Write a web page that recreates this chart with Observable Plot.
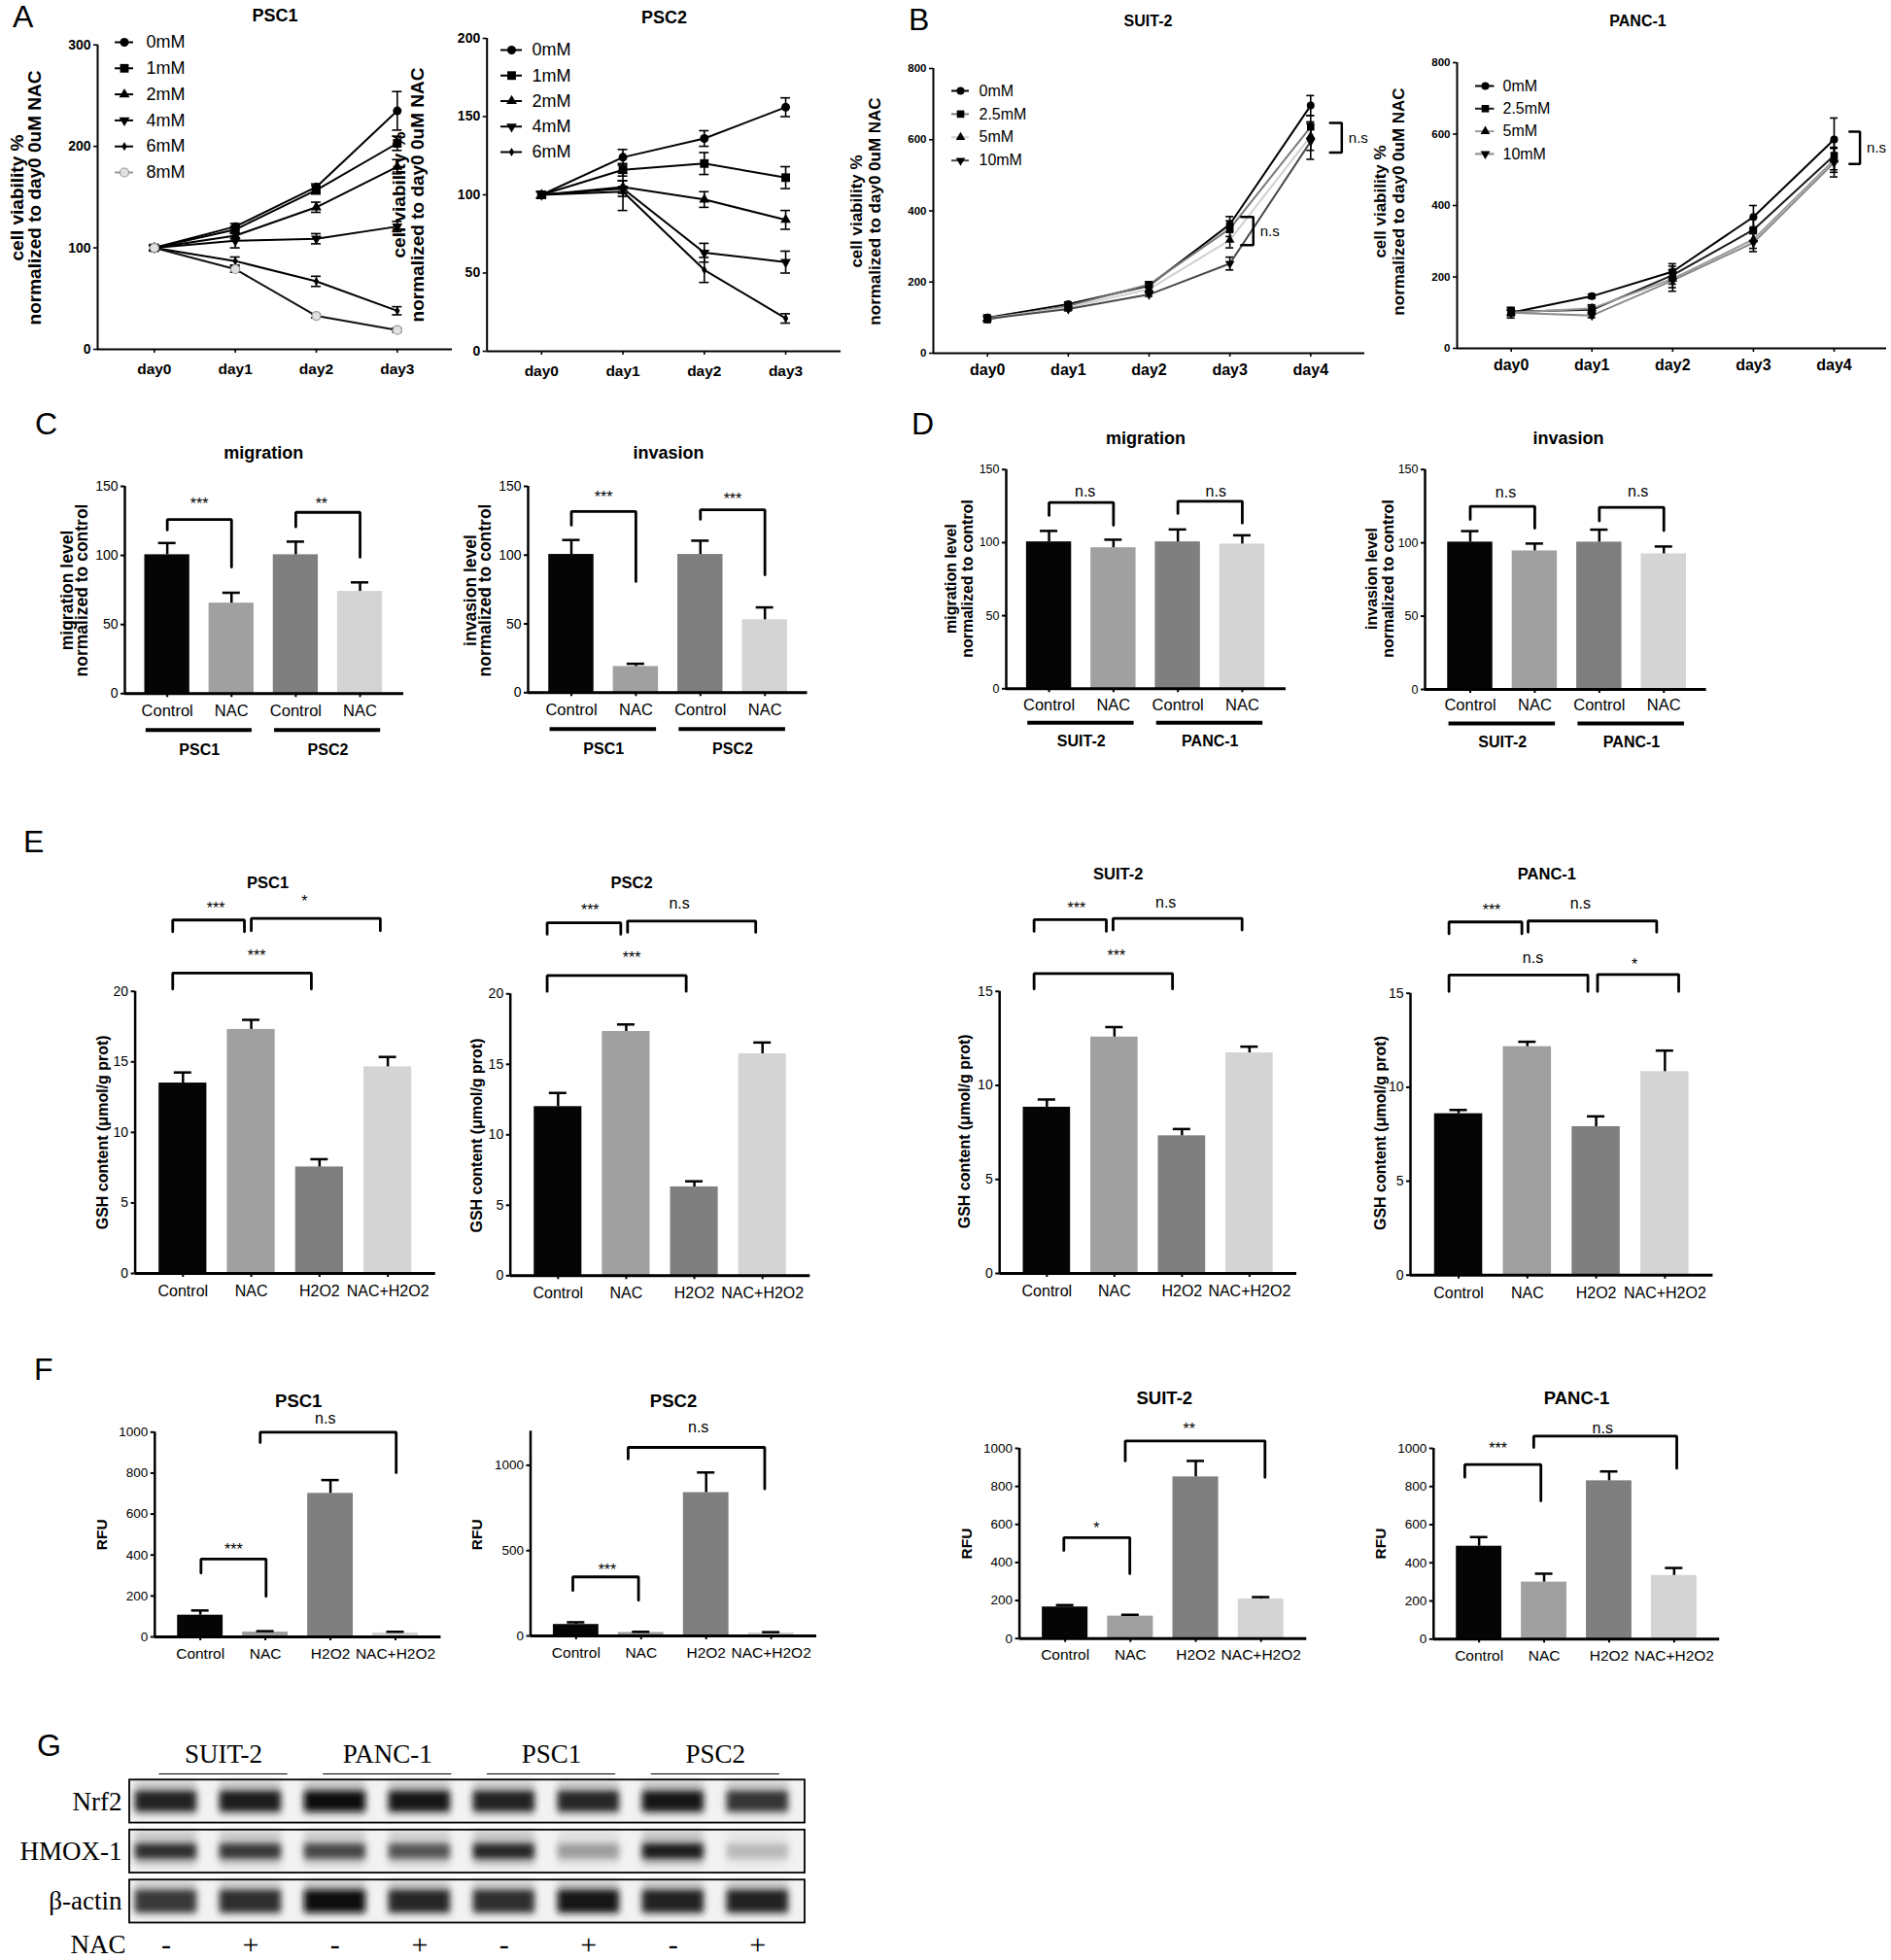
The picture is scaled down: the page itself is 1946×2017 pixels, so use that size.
<!DOCTYPE html>
<html><head><meta charset="utf-8">
<script src="https://cdn.jsdelivr.net/npm/d3@7"></script>
<script src="https://cdn.jsdelivr.net/npm/@observablehq/plot@0.6"></script>
<style>
html,body{margin:0;padding:0;background:#fff;}
#page{position:relative;width:1946px;height:2017px;overflow:hidden;background:#fff;font-family:"Liberation Sans",Arial,Helvetica,sans-serif;color:#000;}
.letter{position:absolute;font-size:32px;line-height:1;}
</style></head><body><div id="page"></div>
<script>
// ---------------- DATA ----------------
// Panels A/B: cell viability (% of day0, 0 uM NAC)
const daysA = ["day0", "day1", "day2", "day3"];
const daysB = ["day0", "day1", "day2", "day3", "day4"];

const psc1Conc = ["0mM", "1mM", "2mM", "4mM", "6mM", "8mM"];
const psc1Mean = [[100,121,160,235],[100,118,157,203],[100,112,140,180],[100,107,109,121],[100,87,67,38],[100,79,33,19]];
const psc1Err  = [[3,3,3,19],[3,3,4,7],[2,3,5,7],[3,7,5,5],[2,4,5,4],[2,3,2,2]];

const psc2Conc = ["0mM", "1mM", "2mM", "4mM", "6mM"];
const psc2Mean = [[100,124,136,156],[100,116,120,111],[100,105,97,84],[100,104,63,57],[100,102,52,21]];
const psc2Err  = [[2,5,5,6],[2,4,7,7],[2,4,5,6],[2,5,6,7],[2,12,8,3]];

const suitConc = ["0mM", "2.5mM", "5mM", "10mM"];
const suitMean = [[100,138,190,362,696],[95,133,193,350,636],[98,128,180,318,610],[97,124,165,252,595]];
const suitErr  = [[8,6,6,22,28],[8,6,8,22,32],[6,5,6,22,40],[6,5,5,18,50]];
const suitSig  = [{x1: 4.24, x2: 4.385, hi: 647, lo: 564, label: "n.s"}, {x1: 3.14, x2: 3.29, hi: 383, lo: 304, label: "n.s"}];

const pancConc = ["0mM", "2.5mM", "5mM", "10mM"];
const pancMean = [[100,146,215,368,585],[103,108,205,332,540],[100,112,195,305,528],[100,92,190,296,520]];
const pancErr  = [[15,6,22,32,60],[10,10,25,30,40],[8,10,25,25,35],[8,6,30,25,40]];
const pancSig  = [{x1: 4.19, x2: 4.32, hi: 607, lo: 516, label: "n.s"}];

// Panels C/D: migration / invasion (% of control)
const cdLabels = ["Control", "NAC", "Control", "NAC"];
const cGroups = ["PSC1", "PSC2"];
const dGroups = ["SUIT-2", "PANC-1"];
const cMigMean = [100.5, 65.5, 100.5, 74],  cMigErr = [8.5, 7.5, 9.5, 6.5];
const cInvMean = [100.5, 19, 100.5, 53],    cInvErr = [10.5, 2, 10, 9];
const dMigMean = [100.5, 96.5, 100.5, 99],  dMigErr = [7.5, 5.5, 8.5, 6];
const dInvMean = [100.5, 94.5, 100.5, 92.5], dInvErr = [7.5, 5, 8.5, 5];
const cMigSig = [{x1:0,x2:1,top:126,ya:118.4,yb:91.6,label:"***",lx:0.5,ly:137.3},{x1:2,x2:3,top:131.2,ya:120.7,yb:98.7,label:"**",lx:2.4,ly:137.3}];
const cInvSig = [{x1:0,x2:1,top:131.7,ya:121.8,yb:80.8,label:"***",lx:0.5,ly:142.2},{x1:2,x2:3,top:132.9,ya:126,yb:85.7,label:"***",lx:2.5,ly:140.8}];
const dMigSig = [{x1:0,x2:1,top:127.4,ya:118.6,yb:111.9,label:"n.s",lx:0.56,ly:134.6},{x1:2,x2:3,top:128.3,ya:119.9,yb:113.4,label:"n.s",lx:2.59,ly:135.2}];
const dInvSig = [{x1:0,x2:1,top:124.9,ya:116,yb:110,label:"n.s",lx:0.55,ly:134.6},{x1:2,x2:3,top:124.2,ya:115,yb:108.3,label:"n.s",lx:2.6,ly:135.3}];

// Panel E: GSH content (umol/g prot)
const efLabels = ["Control", "NAC", "H2O2", "NAC+H2O2"];
const eP1Mean = [13.5, 17.3, 7.55, 14.65],  eP1Err = [0.75, 0.68, 0.55, 0.7];
const eP2Mean = [12.0, 17.33, 6.3, 15.75],  eP2Err = [0.97, 0.5, 0.4, 0.8];
const eSuMean = [8.84, 12.57, 7.32, 11.73], eSuErr = [0.41, 0.53, 0.36, 0.33];
const ePaMean = [8.59, 12.16, 7.9, 10.83],  ePaErr = [0.2, 0.26, 0.55, 1.12];
const eP1Sig = [{x1:-0.15,x2:0.9,top:25.06,ya:24.23,yb:24.23,label:"***",lx:0.48,ly:25.86},{x1:1.0,x2:2.89,top:25.17,ya:24.3,yb:24.3,label:"*",lx:1.78,ly:26.39},{x1:-0.15,x2:1.88,top:21.3,ya:20.17,yb:20.17,label:"***",lx:1.08,ly:22.53}];
const eP2Sig = [{x1:-0.16,x2:0.92,top:25.05,ya:24.23,yb:24.23,label:"***",lx:0.47,ly:25.93},{x1:1.02,x2:2.9,top:25.17,ya:24.37,yb:24.37,label:"n.s",lx:1.78,ly:26.39},{x1:-0.16,x2:1.88,top:21.3,ya:20.18,yb:20.18,label:"***",lx:1.08,ly:22.52}];
const eSuSig = [{x1:-0.19,x2:0.88,top:18.81,ya:18.19,yb:18.19,label:"***",lx:0.44,ly:19.4},{x1:0.98,x2:2.89,top:18.88,ya:18.26,yb:18.26,label:"n.s",lx:1.76,ly:19.74},{x1:-0.19,x2:1.86,top:15.95,ya:15.13,yb:15.13,label:"***",lx:1.03,ly:16.9}];
const ePaSig = [{x1:-0.14,x2:0.92,top:18.8,ya:18.17,yb:18.17,label:"***",lx:0.48,ly:19.42},{x1:1.01,x2:2.88,top:18.85,ya:18.25,yb:18.25,label:"n.s",lx:1.77,ly:19.76},{x1:-0.14,x2:1.88,top:15.97,ya:15.1,yb:15.1,label:"n.s",lx:1.08,ly:16.86},{x1:2.02,x2:3.2,top:16.0,ya:15.1,yb:15.1,label:"*",lx:2.56,ly:16.52}];

// Panel F: ROS (RFU)
const fP1Mean = [106, 24, 701, 20],  fP1Err = [23, 4, 65, 5];
const fP2Mean = [67, 20, 840, 18],   fP2Err = [13, 4, 118, 4];
const fSuMean = [166, 118, 850, 208], fSuErr = [10, 7, 84, 10];
const fPaMean = [487, 299, 830, 334], fPaErr = [48, 44, 49, 39];
const fP1Sig = [{x1:0.01,x2:1.01,top:380,ya:312,yb:198,label:"***",lx:0.51,ly:424},{x1:0.92,x2:3.01,top:1000,ya:949,yb:802,label:"n.s",lx:1.92,ly:1068}];
const fP2Sig = [{x1:-0.05,x2:0.96,top:346,ya:266,yb:209,label:"***",lx:0.48,ly:383},{x1:0.8,x2:2.9,top:1105,ya:1038,yb:862,label:"n.s",lx:1.88,ly:1223}];
const fSuSig = [{x1:-0.02,x2:0.99,top:531,ya:463,yb:341,label:"*",lx:0.48,ly:579},{x1:0.92,x2:3.06,top:1039,ya:934,yb:848,label:"**",lx:1.9,ly:1101}];
const fPaSig = [{x1:-0.22,x2:0.95,top:915,ya:849,yb:725,label:"***",lx:0.29,ly:996},{x1:0.84,x2:3.04,top:1064,ya:1005,yb:895,label:"n.s",lx:1.9,ly:1103}];

// Panel G: western blot (band darkness 0..1 per lane)
const blotGroups = ["SUIT-2", "PANC-1", "PSC1", "PSC2"];
const blotRows = ["Nrf2", "HMOX-1", "β-actin"];
const nacSigns = ["-", "+", "-", "+", "-", "+", "-", "+"];
const nrf2Int  = [0.9, 0.92, 0.97, 0.95, 0.9, 0.88, 0.95, 0.82];
const hmoxInt  = [0.84, 0.8, 0.74, 0.68, 0.88, 0.36, 0.92, 0.24];
const actinInt = [0.8, 0.84, 0.97, 0.88, 0.84, 0.95, 0.9, 0.9];

// ---------------- HELPERS ----------------
const FONT = '"Liberation Sans", Arial, Helvetica, sans-serif';
const SERIF = '"Liberation Serif", "Times New Roman", Times, serif';
const STYLE = {background: "transparent", overflow: "visible", fontFamily: FONT, color: "#000", maxWidth: "none"};
const BAR_FILLS = ["#050505", "#a0a0a0", "#7f7f7f", "#d4d4d4"];
const VIAB = "cell viability %\nnormalized to day0 0uM NAC";
const intFmt = d3.format("d");
const page = document.getElementById("page");
const sqrt3 = Math.sqrt(3);
const triangleDown = {draw(ctx, size) {
  const y = -Math.sqrt(size / (sqrt3 * 3));
  ctx.moveTo(0, -y * 2); ctx.lineTo(-sqrt3 * y, y); ctx.lineTo(sqrt3 * y, y); ctx.closePath();
}};

function mount(svg, box) {
  const d = document.createElement("div");
  d.style.cssText = `position:absolute;left:${box.l}px;top:${box.t}px;width:${box.w}px;height:${box.h}px;`;
  d.appendChild(svg);
  page.appendChild(d);
  return svg;
}
function margins(box, fr) {
  return {marginLeft: fr.x0 - box.l, marginRight: box.l + box.w - fr.x1, marginTop: fr.yTop - box.t, marginBottom: box.t + box.h - fr.yBot};
}
function titleMarks(o) {
  const fr = o.frame;
  return [
    Plot.text([o.title], {frameAnchor: "top", text: d => d, textAnchor: "middle", lineAnchor: "middle",
      dx: o.tx - (fr.x0 + fr.x1) / 2, dy: o.ty - fr.yTop, fontSize: o.titleSize, fontWeight: o.titleWeight || "bold"}),
    Plot.text([o.ylabel], {frameAnchor: "left", text: d => d, rotate: -90, textAnchor: "middle", lineAnchor: "middle",
      dx: o.lx - fr.x0, dy: o.ly - (fr.yTop + fr.yBot) / 2, fontSize: o.ylabelSize, fontWeight: "bold", lineHeight: o.lineHeight || 1})
  ];
}

function lineChart(o) {
  const fr = o.frame;
  const rows = [];
  o.conc.forEach((c, s) => o.mean[s].forEach((v, d) => rows.push({s, d, v, e: o.err[s][d]})));
  const step = (fr.x1 - fr.x0) / (o.xDomain[1] - o.xDomain[0]);
  const cap = o.capPx / step;
  const marks = [
    Plot.ruleX(rows, {x: "d", y1: r => r.v - r.e, y2: r => r.v + r.e, strokeWidth: 1.6}),
    Plot.ruleY(rows, {y: r => r.v + r.e, x1: r => r.d - cap, x2: r => r.d + cap, strokeWidth: 1.6}),
    Plot.ruleY(rows, {y: r => r.v - r.e, x1: r => r.d - cap, x2: r => r.d + cap, strokeWidth: 1.6})
  ];
  o.conc.forEach((c, s) => marks.push(Plot.line(rows.filter(r => r.s === s), {x: "d", y: "v", stroke: o.lineColors[s], strokeWidth: 2})));
  o.conc.forEach((c, s) => marks.push(Plot.dot(rows.filter(r => r.s === s), {x: "d", y: "v", symbol: o.symbols[s], r: o.r[s], fill: o.fills[s], stroke: o.strokes[s], strokeWidth: 1.2})));
  marks.push(
    Plot.ruleY([0], {strokeWidth: 2}),
    Plot.ruleX([o.xDomain[0]], {strokeWidth: 2}),
    Plot.axisY(o.yTicks, {tickFormat: intFmt, tickSize: 4, tickPadding: 3, strokeWidth: 1.6, fontSize: o.yTickSize, fontWeight: "bold", label: null}),
    Plot.axisX(o.days.map((_, i) => i), {tickFormat: i => o.days[i], tickSize: 4, tickPadding: o.xPad, strokeWidth: 1.6, fontSize: o.xTickSize, fontWeight: "bold", label: null})
  );
  (o.sig || []).forEach(g => {
    marks.push(Plot.line([[g.x1, g.hi], [g.x2, g.hi], [g.x2, g.lo], [g.x1, g.lo]], {x: p => p[0], y: p => p[1], strokeWidth: 2.5, strokeLinejoin: "miter"}));
    marks.push(Plot.text([g.label], {x: () => g.x2, y: () => (g.hi + g.lo) / 2, text: d => d, dx: 7, textAnchor: "start", fontSize: 15}));
  });
  marks.push(...titleMarks(o));
  return mount(Plot.plot({width: o.box.w, height: o.box.h, ...margins(o.box, fr),
    x: {domain: o.xDomain}, y: {domain: o.yDomain}, style: STYLE, marks}), o.box);
}

function legendPlot(o) {
  const n = o.names.length;
  const box = {l: o.swatch[0] - 6, t: o.firstY - 20, w: 140, h: (n - 1) * o.step + 40};
  const marks = [];
  o.names.forEach((nm, s) => {
    marks.push(Plot.ruleY([s], {x1: o.swatch[0] - box.l, x2: o.swatch[1] - box.l, stroke: o.lineColors[s], strokeWidth: 2}));
    marks.push(Plot.dot([s], {x: () => o.dotX - box.l, y: d => d, symbol: o.symbols[s], r: o.r[s], fill: o.fills[s], stroke: o.strokes[s], strokeWidth: 1.2}));
  });
  marks.push(Plot.text(o.names, {x: () => o.textX - box.l, y: (d, i) => i, text: d => d, textAnchor: "start", fontSize: o.fontSize}));
  return mount(Plot.plot({width: box.w, height: box.h, margin: 0,
    x: {domain: [0, box.w], range: [0, box.w], axis: null},
    y: {domain: [0, n - 1], range: [20, 20 + (n - 1) * o.step], axis: null},
    style: STYLE, marks}), box);
}

function barChart(o) {
  const fr = o.frame;
  const rows = o.mean.map((v, i) => ({i, v, e: o.err[i]}));
  const step = (fr.x1 - fr.x0) / (o.xDomain[1] - o.xDomain[0]);
  const cap = 9 / step;
  const marks = [
    Plot.rect(rows, {x1: r => r.i - 0.35, x2: r => r.i + 0.35, y1: () => 0, y2: "v", fill: r => BAR_FILLS[r.i]}),
    Plot.ruleX(rows, {x: "i", y1: "v", y2: r => r.v + r.e, strokeWidth: 2.5}),
    Plot.ruleY(rows, {y: r => r.v + r.e, x1: r => r.i - cap, x2: r => r.i + cap, strokeWidth: 2.5}),
    Plot.ruleX([o.xDomain[0]], {strokeWidth: 2.5}),
    Plot.ruleY([0], {strokeWidth: 3}),
    Plot.axisY(o.yTicks, {tickFormat: intFmt, tickSize: 4, tickPadding: 3, strokeWidth: 2, fontSize: o.tickSize, label: null}),
    Plot.axisX([0, 1, 2, 3], {tickFormat: i => o.labels[i], tickSize: 4, tickPadding: o.xPad, strokeWidth: 2, fontSize: o.xLabelSize, label: null})
  ];
  o.sig.forEach(g => marks.push(Plot.line([[g.x1, g.ya], [g.x1, g.top], [g.x2, g.top], [g.x2, g.yb]],
    {x: p => p[0], y: p => p[1], strokeWidth: 2.8, strokeLinejoin: "miter"})));
  marks.push(Plot.text(o.sig, {x: "lx", y: "ly", text: "label", fontSize: 16}));
  if (o.groups) {
    marks.push(Plot.ruleY(o.groups, {y: () => 0, x1: (d, i) => 2 * i - 0.33, x2: (d, i) => 2 * i + 1.32, dy: o.ulDy, strokeWidth: 4}));
    marks.push(Plot.text(o.groups, {x: (d, i) => 2 * i + 0.5, y: () => 0, dy: o.glDy, text: d => d, fontSize: o.groupSize, fontWeight: "bold"}));
  }
  marks.push(...titleMarks(o));
  return mount(Plot.plot({width: o.box.w, height: o.box.h, ...margins(o.box, fr),
    x: {domain: o.xDomain}, y: {domain: o.yDomain}, style: STYLE, marks}), o.box);
}

// ---------------- PANEL A ----------------
const symA = ["circle", "square", "triangle", triangleDown, "diamond", "circle"];
const rA = [4.5, 5, 4, 4, 2.8, 4.5];
const fillA = ["#000", "#000", "#000", "#000", "#000", "#e2e2e2"];
const strokeA = ["none", "none", "none", "none", "none", "#999"];
lineChart({box: {l: 0, t: 0, w: 480, h: 400}, frame: {x0: 100, x1: 465, yTop: 45.7, yBot: 359},
  xDomain: [-0.7, 3.68], yDomain: [0, 300], yTicks: [0, 100, 200, 300], days: daysA,
  conc: psc1Conc, mean: psc1Mean, err: psc1Err, lineColors: ["#000", "#000", "#000", "#000", "#000", "#111"],
  symbols: symA, r: rA, fills: fillA, strokes: strokeA, capPx: 5, yTickSize: 14, xTickSize: 15.5, xPad: 10,
  title: "PSC1", tx: 282.5, ty: 15.9, titleSize: 18, ylabel: VIAB, lx: 26.6, ly: 203, ylabelSize: 19, lineHeight: 0.97});
legendPlot({names: psc1Conc, swatch: [118, 137], dotX: 127.5, textX: 150, firstY: 42.5, step: 26.8, fontSize: 18,
  lineColors: ["#000", "#000", "#000", "#000", "#000", "#999"], symbols: symA, r: rA, fills: fillA, strokes: strokeA});

lineChart({box: {l: 395, t: 0, w: 480, h: 400}, frame: {x0: 500.7, x1: 865, yTop: 39, yBot: 361},
  xDomain: [-0.67, 3.68], yDomain: [0, 200], yTicks: [0, 50, 100, 150, 200], days: daysA,
  conc: psc2Conc, mean: psc2Mean, err: psc2Err, lineColors: ["#000", "#000", "#000", "#000", "#000"],
  symbols: symA.slice(0, 5), r: rA.slice(0, 5), fills: fillA.slice(0, 5), strokes: strokeA.slice(0, 5), capPx: 5,
  yTickSize: 14, xTickSize: 15.5, xPad: 10,
  title: "PSC2", tx: 683, ty: 18.2, titleSize: 18, ylabel: VIAB, lx: 420.3, ly: 200, ylabelSize: 19, lineHeight: 0.97});
legendPlot({names: psc2Conc, swatch: [515, 537], dotX: 526, textX: 547, firstY: 50.9, step: 26.25, fontSize: 18,
  lineColors: ["#000", "#000", "#000", "#000", "#000"], symbols: symA.slice(0, 5), r: rA.slice(0, 5), fills: fillA.slice(0, 5), strokes: strokeA.slice(0, 5)});

// ---------------- PANEL B ----------------
const symB = ["circle", "square", "triangle", triangleDown];
const rB = [4, 4.3, 3.6, 3.6];
const fillB = ["#000", "#000", "#000", "#000"];
const strokeB = ["none", "none", "none", "none"];
const suitLines = ["#000", "#7a7a7a", "#d0d0d0", "#4a4a4a"];
const pancLines = ["#000", "#1a1a1a", "#9a9a9a", "#8a8a8a"];
lineChart({box: {l: 860, t: 0, w: 560, h: 400}, frame: {x0: 960, x1: 1404, yTop: 70, yBot: 363},
  xDomain: [-0.67, 4.67], yDomain: [0, 800], yTicks: [0, 200, 400, 600, 800], days: daysB,
  conc: suitConc, mean: suitMean, err: suitErr, lineColors: suitLines,
  symbols: symB, r: rB, fills: fillB, strokes: strokeB, capPx: 4, yTickSize: 11.5, xTickSize: 16, xPad: 7, sig: suitSig,
  title: "SUIT-2", tx: 1181, ty: 21.6, titleSize: 16, ylabel: VIAB, lx: 889.5, ly: 217, ylabelSize: 17, lineHeight: 1.12});
legendPlot({names: suitConc, swatch: [979, 997], dotX: 988, textX: 1007, firstY: 93.2, step: 23.9, fontSize: 16,
  lineColors: suitLines, symbols: symB, r: rB, fills: fillB, strokes: strokeB});

lineChart({box: {l: 1400, t: 0, w: 546, h: 400}, frame: {x0: 1499, x1: 1941, yTop: 64, yBot: 358},
  xDomain: [-0.67, 4.65], yDomain: [0, 800], yTicks: [0, 200, 400, 600, 800], days: daysB,
  conc: pancConc, mean: pancMean, err: pancErr, lineColors: pancLines,
  symbols: symB, r: rB, fills: fillB, strokes: strokeB, capPx: 4, yTickSize: 11.5, xTickSize: 16, xPad: 7, sig: pancSig,
  title: "PANC-1", tx: 1685, ty: 21.6, titleSize: 16, ylabel: VIAB, lx: 1428.5, ly: 207, ylabelSize: 17, lineHeight: 1.12});
legendPlot({names: pancConc, swatch: [1518, 1537.5], dotX: 1528, textX: 1546, firstY: 88.2, step: 23.3, fontSize: 16,
  lineColors: pancLines, symbols: symB, r: rB, fills: fillB, strokes: strokeB});

// ---------------- PANELS C / D ----------------
const cdCommon = {yDomain: [0, 150], yTicks: [0, 50, 100, 150], labels: cdLabels, titleSize: 18, titleWeight: "bold", xLabelSize: 16.5, groupSize: 16};
barChart({...cdCommon, box: {l: 30, t: 440, w: 400, h: 350}, frame: {x0: 128, x1: 415, yTop: 500, yBot: 713.3},
  xDomain: [-0.66, 3.68], mean: cMigMean, err: cMigErr, sig: cMigSig, title: "migration", tx: 270.7, ty: 466,
  ylabel: "migration level\nnormalized to control", lx: 77, ly: 607, ylabelSize: 17.5, lineHeight: 0.9,
  tickSize: 14, xPad: 7, groups: cGroups, ulDy: 37.4, glDy: 58.4});
barChart({...cdCommon, box: {l: 440, t: 440, w: 410, h: 350}, frame: {x0: 543, x1: 830.5, yTop: 500, yBot: 712.3},
  xDomain: [-0.67, 3.66], mean: cInvMean, err: cInvErr, sig: cInvSig, title: "invasion", tx: 687.5, ty: 466,
  ylabel: "invasion level\nnormalized to control", lx: 492, ly: 607, ylabelSize: 17.5, lineHeight: 0.9,
  tickSize: 14, xPad: 7, groups: cGroups, ulDy: 37.4, glDy: 58.4});
barChart({...cdCommon, box: {l: 940, t: 420, w: 400, h: 360}, frame: {x0: 1035, x1: 1323, yTop: 482.7, yBot: 708.3},
  xDomain: [-0.665, 3.68], mean: dMigMean, err: dMigErr, sig: dMigSig, title: "migration", tx: 1178.5, ty: 451,
  ylabel: "migration level\nnormalized to control", lx: 987, ly: 595, ylabelSize: 16, lineHeight: 1.06,
  tickSize: 12.5, xPad: 6, groups: dGroups, ulDy: 35, glDy: 54.4});
barChart({...cdCommon, box: {l: 1380, t: 420, w: 400, h: 360}, frame: {x0: 1466, x1: 1755.6, yTop: 482.7, yBot: 709},
  xDomain: [-0.7, 3.66], mean: dInvMean, err: dInvErr, sig: dInvSig, title: "invasion", tx: 1613.4, ty: 451,
  ylabel: "invasion level\nnormalized to control", lx: 1420, ly: 595, ylabelSize: 16, lineHeight: 1.06,
  tickSize: 12.5, xPad: 6, groups: dGroups, ulDy: 35, glDy: 54.4});

// ---------------- PANEL E ----------------
const GSH = "GSH content (μmol/g prot)";
const eCommon = {xDomain: [-0.7, 3.7], labels: efLabels, titleSize: 16.5, ylabel: GSH, ylabelSize: 16, tickSize: 14, xLabelSize: 16, xPad: 8};
barChart({...eCommon, box: {l: 60, t: 870, w: 400, h: 480}, frame: {x0: 138.6, x1: 447.8, yTop: 1019.7, yBot: 1310},
  yDomain: [0, 20], yTicks: [0, 5, 10, 15, 20], mean: eP1Mean, err: eP1Err, sig: eP1Sig, title: "PSC1", tx: 275, ty: 908.7, lx: 105, ly: 1164.8});
barChart({...eCommon, box: {l: 460, t: 870, w: 390, h: 480}, frame: {x0: 524.7, x1: 833.3, yTop: 1022.3, yBot: 1312.3},
  yDomain: [0, 20], yTicks: [0, 5, 10, 15, 20], mean: eP2Mean, err: eP2Err, sig: eP2Sig, title: "PSC2", tx: 649.6, ty: 908.7, lx: 490, ly: 1168});
barChart({...eCommon, box: {l: 960, t: 870, w: 390, h: 480}, frame: {x0: 1028.2, x1: 1334, yTop: 1019.7, yBot: 1310},
  yDomain: [0, 15], yTicks: [0, 5, 10, 15], mean: eSuMean, err: eSuErr, sig: eSuSig, title: "SUIT-2", tx: 1150.2, ty: 899.7, lx: 992, ly: 1163.8});
barChart({...eCommon, box: {l: 1390, t: 870, w: 390, h: 480}, frame: {x0: 1451, x1: 1762.4, yTop: 1021.7, yBot: 1311.7},
  yDomain: [0, 15], yTicks: [0, 5, 10, 15], mean: ePaMean, err: ePaErr, sig: ePaSig, title: "PANC-1", tx: 1591.4, ty: 899.7, lx: 1420, ly: 1165.5});

// ---------------- PANEL F ----------------
const fCommon = {xDomain: [-0.7, 3.7], labels: efLabels, titleSize: 18.5, ylabel: "RFU", ylabelSize: 15.5, tickSize: 13.5, xLabelSize: 15.5, xPad: 7};
const rfuTicks = [0, 200, 400, 600, 800, 1000];
barChart({...fCommon, box: {l: 80, t: 1420, w: 390, h: 310}, frame: {x0: 158.8, x1: 453.4, yTop: 1473.3, yBot: 1684},
  yDomain: [0, 1000], yTicks: rfuTicks, mean: fP1Mean, err: fP1Err, sig: fP1Sig, title: "PSC1", tx: 306.7, ty: 1441.4, lx: 104.4, ly: 1578.8});
barChart({...fCommon, box: {l: 470, t: 1420, w: 390, h: 310}, frame: {x0: 545.5, x1: 840, yTop: 1472.3, yBot: 1683},
  yDomain: [0, 1200], yTicks: [0, 500, 1000], mean: fP2Mean, err: fP2Err, sig: fP2Sig, title: "PSC2", tx: 692.5, ty: 1441.4, lx: 491, ly: 1578.8});
barChart({...fCommon, box: {l: 980, t: 1420, w: 380, h: 310}, frame: {x0: 1048.6, x1: 1344.3, yTop: 1490, yBot: 1685.7},
  yDomain: [0, 1000], yTicks: rfuTicks, mean: fSuMean, err: fSuErr, sig: fSuSig, title: "SUIT-2", tx: 1197.8, ty: 1438.1, lx: 995, ly: 1588});
barChart({...fCommon, box: {l: 1400, t: 1420, w: 390, h: 310}, frame: {x0: 1474.8, x1: 1769.2, yTop: 1490, yBot: 1686.3},
  yDomain: [0, 1000], yTicks: rfuTicks, mean: fPaMean, err: fPaErr, sig: fPaSig, title: "PANC-1", tx: 1622, ty: 1438.1, lx: 1421, ly: 1588});

// ---------------- PANEL G (blot) ----------------
{
  const box = {l: 0, t: 1770, w: 860, h: 247};
  const xDom = [0.57, 8.56];
  const bands = [];
  [nrf2Int, hmoxInt, actinInt].forEach((arr, r) => arr.forEach((v, j) => bands.push({row: r + 1, lane: j + 1, v})));
  const bandHalf = [0, 0.2, 0.15, 0.22];
  const shade = d3.interpolateRgb("#f2f2f2", "#0a0a0a");
  const gx1 = i => 0.92 + 1.94 * i, gx2 = i => 0.92 + 1.94 * i + 1.52;
  const svg = mount(Plot.plot({width: box.w, height: box.h,
    x: {domain: xDom, range: [133, 828], axis: null},
    y: {domain: [0, 4], range: [32, 237.8], axis: null},
    style: STYLE,
    marks: [
      Plot.rect(blotRows, {x1: () => xDom[0], x2: () => xDom[1], y1: (d, i) => i + 1 - 0.43, y2: (d, i) => i + 1 + 0.43, fill: "#f2f2f2"}),
      // faint smear from the well down to each band
      Plot.rect(bands, {x1: d => d.lane - 0.36, x2: d => d.lane + 0.36, y1: d => d.row - 0.4, y2: d => d.row + 0.3, fill: d => shade(d.v * 0.22)}),
      Plot.rect(bands, {x1: d => d.lane - 0.36, x2: d => d.lane + 0.36, y1: d => d.row - bandHalf[d.row], y2: d => d.row + bandHalf[d.row], fill: d => shade(d.v)}),
      Plot.rect(blotRows, {x1: () => xDom[0], x2: () => xDom[1], y1: (d, i) => i + 1 - 0.43, y2: (d, i) => i + 1 + 0.43, fill: "none", stroke: "#000", strokeWidth: 1.8}),
      Plot.text(blotRows, {x: () => xDom[0], y: (d, i) => i + 1, dx: -8, textAnchor: "end", text: d => d, fontFamily: SERIF, fontSize: 27}),
      Plot.text(blotGroups, {x: (d, i) => (gx1(i) + gx2(i)) / 2, y: () => 0, dy: 3, text: d => d, fontFamily: SERIF, fontSize: 27}),
      Plot.ruleY(blotGroups, {y: () => 0, x1: (d, i) => gx1(i), x2: (d, i) => gx2(i), dy: 23, strokeWidth: 1.2}),
      Plot.text(["NAC"], {x: () => xDom[0], y: () => 4, dx: -4, dy: -7, textAnchor: "end", text: d => d, fontFamily: SERIF, fontSize: 27}),
      Plot.text(nacSigns, {x: (d, i) => i + 1, y: () => 4, dy: -7, text: d => d, fontFamily: SERIF, fontSize: 30})
    ]}), box);
  const ns = "http://www.w3.org/2000/svg";
  const defs = document.createElementNS(ns, "defs");
  defs.innerHTML = '<filter id="blotblur" x="-50%" y="-120%" width="200%" height="340%"><feGaussianBlur stdDeviation="3.6 3"/></filter>';
  svg.insertBefore(defs, svg.firstChild);
  svg.querySelectorAll("rect[fill]").forEach(r => r.setAttribute("filter", "url(#blotblur)"));
}

// ---------------- panel letters ----------------
[["A", 13, 1], ["B", 935, 4], ["C", 36, 420], ["D", 938, 420], ["E", 24, 850], ["F", 35, 1393], ["G", 38, 1780]].forEach(([t, x, y]) => {
  const d = document.createElement("div");
  d.className = "letter"; d.textContent = t;
  d.style.left = x + "px"; d.style.top = y + "px";
  page.appendChild(d);
});
</script></body></html>
